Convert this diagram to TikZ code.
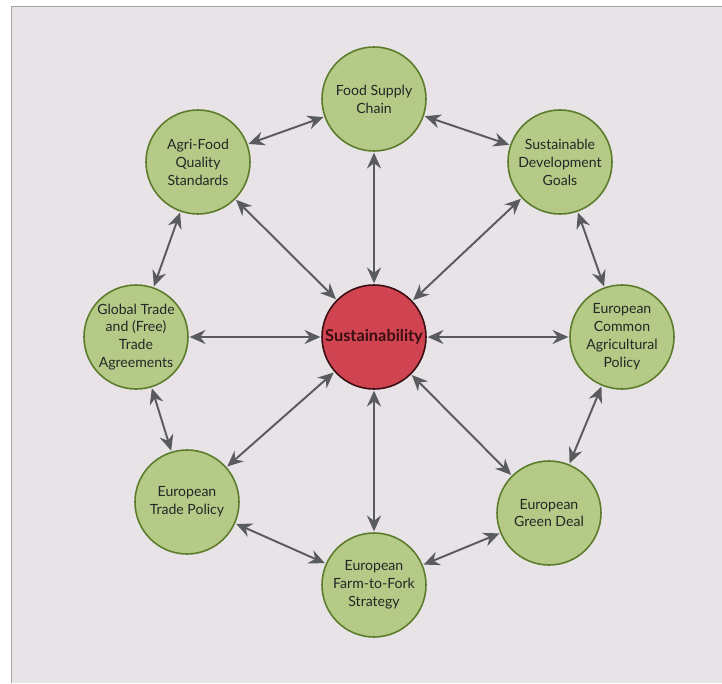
\documentclass[tikz,border=0pt]{standalone}
\usepackage{fontspec}
\setmainfont{Lato}
\usetikzlibrary{arrows.meta}
\definecolor{bgpink}{HTML}{E8E3E7}
\definecolor{leafgreen}{HTML}{B5CA87}
\definecolor{leafdark}{HTML}{5C7C2C}
\definecolor{corered}{HTML}{CF4450}
\definecolor{coredark}{HTML}{3A0E12}
\definecolor{linkgray}{HTML}{595B5D}
\tikzset{
  topic/.style={draw=leafdark, fill=leafgreen, line width=0.9pt, circle, minimum size=2.08cm, inner sep=0pt, align=center, font=\fontsize{8}{10.2}\selectfont, text=black!85},
  core/.style={draw=coredark, fill=corered, line width=0.9pt, circle, minimum size=2.08cm, inner sep=0pt, font=\fontsize{9.3}{11}\selectfont\bfseries, text=coredark},
  link/.style={{Stealth[length=9pt,width=8pt,inset=3pt]}-{Stealth[length=9pt,width=8pt,inset=3pt]}, draw=linkgray, line width=1.1pt, shorten <=0.5pt, shorten >=0.5pt}
}
\begin{document}
\begin{tikzpicture}
                \useasboundingbox (0,0) rectangle (14.44,-13.66);
                % frame
                \fill[bgpink] (0.23,-0.13) rectangle (14.44,-13.66);
                \draw[gray!70, line width=0.8pt] (0.23,-13.66) -- (0.23,-0.13) -- (14.44,-0.13);

                % centre
                \node[core] (S) at (7.48,-6.74) {Sustainability};

                % ring
                \node[topic] (F) at (7.48,-1.98) {Food Supply\\Chain};
                \node[topic] (G) at (11.2,-3.24) {Sustainable\\Development\\Goals};
                \node[topic] (C) at (12.44,-6.74) {European\\Common\\Agricultural\\Policy};
                \node[topic] (D) at (10.98,-10.26) {European\\Green Deal};
                \node[topic] (K) at (7.48,-11.7) {European\\Farm-to-Fork\\Strategy};
                \node[topic] (P) at (3.74,-10.04) {European\\Trade Policy};
                \node[topic] (T) at (2.72,-6.74) {Global Trade\\and (Free)\\Trade\\Agreements};
                \node[topic] (Q) at (3.96,-3.24) {Agri-Food\\Quality\\Standards};

                % spokes
                \foreach \n in {F,G,C,D,K,P,T,Q}
                    \draw[link] (S) -- (\n);

                % outer links
                \draw[link] (F) -- (G);
                \draw[link] (G) -- (C);
                \draw[link] (C) -- (D);
                \draw[link] (D) -- (K);
                \draw[link] (K) -- (P);
                \draw[link] (P) -- (T);
                \draw[link] (T) -- (Q);
                \draw[link] (Q) -- (F);
            \end{tikzpicture}
\end{document}
